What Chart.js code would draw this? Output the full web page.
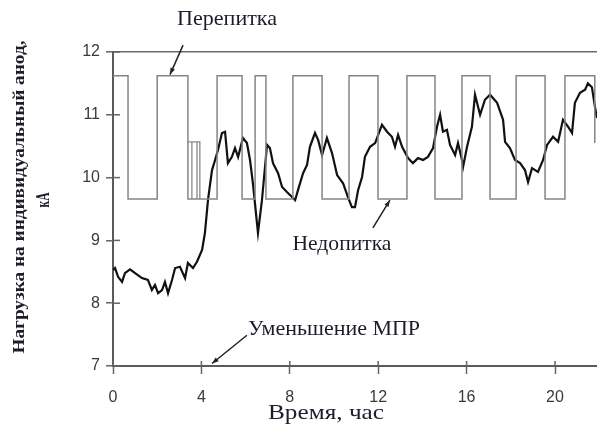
<!DOCTYPE html>
<html>
<head>
<meta charset="utf-8">
<script src="https://cdn.jsdelivr.net/npm/chart.js@4/dist/chart.umd.min.js"></script>
<style>
html,body{margin:0;padding:0;background:#fff;}
#wrap{width:597px;height:432px;}
</style>
</head>
<body>
<div id="wrap"><canvas id="c" width="597" height="432"></canvas></div>
<script>
// ---- data ----
const timeH = [0,0.09,0.23,0.41,0.54,0.77,1.0,1.31,1.58,1.76,1.9,2.04,2.22,2.35,2.49,2.67,2.81,3.03,3.26,3.39,3.62,3.8,4.03,4.16,4.3,4.48,4.62,4.75,4.93,5.07,5.2,5.38,5.52,5.66,5.88,6.06,6.2,6.33,6.56,6.74,6.97,7.1,7.24,7.47,7.65,7.87,8.1,8.24,8.37,8.6,8.78,8.91,9.14,9.28,9.46,9.68,9.91,10.14,10.41,10.63,10.81,10.95,11.09,11.27,11.4,11.63,11.86,12.17,12.4,12.62,12.76,12.9,13.08,13.35,13.57,13.8,14.03,14.25,14.48,14.66,14.8,14.93,15.11,15.25,15.48,15.61,15.79,15.84,16.02,16.24,16.38,16.61,16.83,17.06,17.38,17.65,17.74,17.96,18.19,18.42,18.64,18.78,18.96,19.23,19.46,19.64,19.91,20.14,20.36,20.59,20.77,20.9,21.13,21.36,21.49,21.67,21.81,21.9];
const loadKA = [8.53,8.56,8.42,8.34,8.48,8.54,8.48,8.40,8.37,8.21,8.29,8.16,8.21,8.34,8.16,8.37,8.56,8.58,8.40,8.64,8.56,8.66,8.85,9.12,9.65,10.12,10.28,10.44,10.71,10.73,10.23,10.33,10.47,10.33,10.63,10.55,10.28,9.91,9.12,9.64,10.52,10.47,10.23,10.07,9.85,9.77,9.69,9.64,9.80,10.07,10.20,10.49,10.71,10.60,10.36,10.63,10.39,10.04,9.91,9.69,9.53,9.53,9.80,10.01,10.33,10.49,10.55,10.84,10.73,10.65,10.49,10.68,10.49,10.31,10.23,10.31,10.28,10.33,10.47,10.81,11.00,10.73,10.76,10.52,10.36,10.55,10.28,10.17,10.49,10.81,11.32,11.00,11.24,11.32,11.19,10.92,10.57,10.47,10.28,10.23,10.12,9.93,10.15,10.09,10.28,10.52,10.65,10.57,10.92,10.81,10.71,11.19,11.35,11.40,11.50,11.44,11.12,10.95];
const feedX = [0,0.68,0.68,2.0,2.0,3.39,3.39,4.71,4.71,5.84,5.84,6.43,6.43,6.92,6.92,8.14,8.14,9.46,9.46,10.68,10.68,11.99,11.99,13.30,13.30,14.57,14.57,15.79,15.79,17.06,17.06,18.24,18.24,19.55,19.55,20.45,20.45,21.8,21.8];
const feedY = [11.62,11.62,9.66,9.66,11.62,11.62,9.66,9.66,11.62,11.62,9.66,9.66,11.62,11.62,9.66,9.66,11.62,11.62,9.66,9.66,11.62,11.62,9.66,9.66,11.62,11.62,9.66,9.66,11.62,11.62,9.66,9.66,11.62,11.62,9.66,9.66,11.62,11.62,10.55];
const pulseX = [3.39,3.93,3.93,3.93,3.57,3.57,3.57,3.80,3.80];
const pulseY = [10.57,10.57,9.66,null,10.57,9.66,null,10.57,9.66];
const xTicks = [0,4,8,12,16,20];
const yTicks = [7,8,9,10,11,12];
const xTitle = 'Время, час';
const yTitle1 = 'Нагрузка на индивидуальный анод,';
const yTitle2 = 'кА';
const noteOver = 'Перепитка';
const noteUnder = 'Недопитка';
const noteMpr = 'Уменьшение МПР';

const toPts = (xs, ys) => xs.map((x, i) => ({x: x, y: ys[i]}));

const TXT = '#1c1c2a';
function fitText(ctx, text, cx, cy, w, size, bold, rot) {
  ctx.save();
  ctx.font = (bold ? 'bold ' : '') + size + 'px "Liberation Serif", "DejaVu Serif", serif';
  const m = ctx.measureText(text).width;
  ctx.translate(cx, cy);
  if (rot) ctx.rotate(rot);
  ctx.scale(w / m, 1);
  ctx.fillStyle = TXT;
  ctx.textAlign = 'center';
  ctx.textBaseline = 'middle';
  ctx.fillText(text, 0, 0);
  ctx.restore();
}
function arrow(ctx, x1, y1, x2, y2) {
  ctx.save();
  ctx.strokeStyle = '#222';
  ctx.fillStyle = '#222';
  ctx.lineWidth = 1.5;
  ctx.beginPath(); ctx.moveTo(x1, y1); ctx.lineTo(x2, y2); ctx.stroke();
  const a = Math.atan2(y2 - y1, x2 - x1), L = 7, s = 0.35;
  ctx.beginPath();
  ctx.moveTo(x2, y2);
  ctx.lineTo(x2 - L * Math.cos(a - s), y2 - L * Math.sin(a - s));
  ctx.lineTo(x2 - L * Math.cos(a + s), y2 - L * Math.sin(a + s));
  ctx.closePath(); ctx.fill();
  ctx.restore();
}

const decor = {
  id: 'decor',
  afterDraw(chart) {
    const ctx = chart.ctx, xs = chart.scales.x, ys = chart.scales.y, a = chart.chartArea;
    // inner halves of tick marks
    ctx.save();
    ctx.strokeStyle = '#666'; ctx.lineWidth = 1.5;
    yTicks.forEach(v => { const p = ys.getPixelForValue(v); ctx.beginPath(); ctx.moveTo(a.left, p); ctx.lineTo(a.left + 7, p); ctx.stroke(); });
    xTicks.forEach(v => { const p = xs.getPixelForValue(v); ctx.beginPath(); ctx.moveTo(p, a.bottom); ctx.lineTo(p, a.bottom - 5); ctx.stroke(); });
    ctx.restore();
    const X = v => xs.getPixelForValue(v), Y = v => ys.getPixelForValue(v);
    // annotations
    fitText(ctx, noteOver, X(5.16), Y(12.52), 100, 21, false);
    arrow(ctx, X(3.17), Y(12.11), X(2.58), Y(11.64));
    fitText(ctx, noteUnder, X(10.36), Y(8.93), 99, 21, false);
    arrow(ctx, X(11.76), Y(9.20), X(12.53), Y(9.64));
    fitText(ctx, noteMpr, X(10.0), Y(7.58), 172, 21, false);
    arrow(ctx, X(6.06), Y(7.49), X(4.48), Y(7.04));
    // axis titles
    fitText(ctx, xTitle, 326, 413, 116, 21, false);
    fitText(ctx, yTitle1, 20, 197, 313, 17, true, -Math.PI / 2);
    fitText(ctx, yTitle2, 44, 200, 15, 19, true, -Math.PI / 2);
  }
};

new Chart(document.getElementById('c'), {
  type: 'scatter',
  data: {
    datasets: [
      { data: toPts(feedX, feedY), showLine: true, borderColor: '#858585', borderWidth: 1.5, pointRadius: 0, tension: 0 },
      { data: toPts(pulseX, pulseY), showLine: true, spanGaps: false, borderColor: '#8a8a8a', borderWidth: 1.3, pointRadius: 0, tension: 0 },
      { data: toPts(timeH, loadKA), showLine: true, borderColor: '#111', borderWidth: 2.2, pointRadius: 0, tension: 0 }
    ]
  },
  options: {
    responsive: false,
    animation: false,
    layout: { padding: { top: 52, right: 0, bottom: 0, left: 0 } },
    plugins: { legend: { display: false }, tooltip: { enabled: false } },
    scales: {
      x: {
        type: 'linear', min: 0, max: 21.9,
        afterBuildTicks: s => { s.ticks = xTicks.map(v => ({ value: v })); },
        afterFit: s => { s.height = 66; },
        border: { color: '#5a5a5a', width: 2 },
        grid: { drawOnChartArea: false, tickLength: 8, tickColor: '#666', tickWidth: 1.5 },
        ticks: { color: '#3a3a3a', padding: 14, font: { family: '"Liberation Sans", Arial, sans-serif', size: 16 } }
      },
      y: {
        min: 7, max: 12,
        afterBuildTicks: s => { s.ticks = yTicks.map(v => ({ value: v })); },
        afterFit: s => { s.width = 113; },
        border: { color: '#5a5a5a', width: 2 },
        grid: {
          drawOnChartArea: true,
          color: c => (c.tick && c.tick.value === 12) ? '#6a6a6a' : 'rgba(0,0,0,0)',
          lineWidth: 1.6,
          tickLength: 7, tickColor: '#666', tickWidth: 1.5
        },
        ticks: { color: '#3a3a3a', padding: 6, font: { family: '"Liberation Sans", Arial, sans-serif', size: 16 } }
      }
    }
  },
  plugins: [decor]
});
</script>
</body>
</html>
